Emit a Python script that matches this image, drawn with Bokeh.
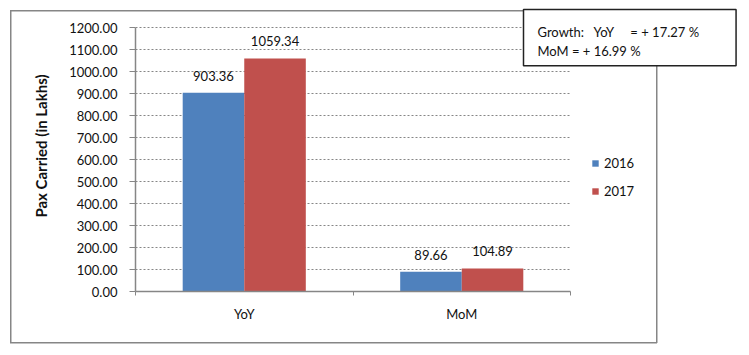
from bokeh.plotting import figure
from bokeh.models import (ColumnDataSource, FixedTicker, NumeralTickFormatter,
                          Legend, LegendItem, Label, LabelSet)
from bokeh.core.properties import value
from bokeh.transform import dodge
from bokeh.embed import file_html
from bokeh.resources import INLINE

categories = ["YoY", "MoM"]
series_names = ["2016", "2017"]
values_2016 = [903.36, 89.66]
values_2017 = [1059.34, 104.89]
y_ticks = [0, 100, 200, 300, 400, 500, 600, 700, 800, 900, 1000, 1100, 1200]
NB = "\u00a0"
growth_text = ("Growth:" + NB * 3 + "YoY" + NB * 5 + "= + 17.27 %\n"
               "MoM = + 16.99 %")

FONT = "Lato"
BLUE = "#4F81BD"
RED = "#C0504D"
GRAY = "#868686"
W, H = 749, 355

# layout geometry (pixels)
LEFT, BOTTOM = 135, 64
PLOT_RIGHT, PLOT_TOP = 570, 27
frame_w = W - LEFT
frame_h = H - BOTTOM
ncat = len(categories)
ymax = y_ticks[-1]
x_end = ncat * frame_w / (PLOT_RIGHT - LEFT)
y_end = ymax * frame_h / (frame_h - PLOT_TOP)

xc = [i + 0.5 for i in range(ncat)]
src = ColumnDataSource(dict(
    xc=xc,
    v16=values_2016,
    v17=values_2017,
    l16=["%.2f" % v for v in values_2016],
    l17=["%.2f" % v for v in values_2017],
))

# outer chart border painted as the host background (behind the transparent canvas)
g = "linear-gradient(%s,%s)" % (GRAY, GRAY)
bg = ", ".join([
    g + " 10px 10px / 647px 1.5px no-repeat",
    g + " 10px 342px / 647px 1.5px no-repeat",
    g + " 10px 10px / 1.5px 333px no-repeat",
    g + " 656px 10px / 1.5px 333px no-repeat",
    "white",
])

p = figure(width=W, height=H, x_range=(0, x_end), y_range=(0, y_end),
           output_backend="svg", toolbar_location=None,
           min_border_left=LEFT, min_border_right=0, min_border_top=0, min_border_bottom=BOTTOM,
           styles={"background": bg})
p.outline_line_color = None
p.background_fill_alpha = 0
p.border_fill_alpha = 0

# grid lines (only across the plot area)
p.segment(x0=0, x1=ncat, y0=y_ticks[1:], y1=y_ticks[1:], line_color=GRAY,
          line_dash="2 2", line_width=1)

w = 0.283
r16 = p.vbar(x=dodge("xc", -w / 2), top="v16", width=w, source=src,
             fill_color=BLUE, line_color=None)
r17 = p.vbar(x=dodge("xc", w / 2), top="v17", width=w, source=src,
             fill_color=RED, line_color=None)

for col, lab, off in (("v16", "l16", -w / 2), ("v17", "l17", w / 2)):
    ls = LabelSet(x=dodge("xc", off), y=col, text=lab, source=src,
                  text_align="center", text_baseline="bottom", y_offset=12,
                  text_font=value(FONT), text_font_size=value("13px"), text_color="#111111")
    p.add_layout(ls)

# y axis
p.yaxis.ticker = FixedTicker(ticks=y_ticks)
p.yaxis.bounds = (0, ymax)
p.yaxis.formatter = NumeralTickFormatter(format="0.00")
p.yaxis.major_label_text_font = FONT
p.yaxis.major_label_text_font_size = "13px"
p.yaxis.major_label_text_color = "#111111"
p.yaxis.major_label_standoff = 12
p.yaxis.major_tick_out = 6
p.yaxis.major_tick_in = 0
p.yaxis.minor_tick_line_color = None
p.yaxis.major_tick_line_color = GRAY
p.yaxis.axis_line_color = GRAY
p.yaxis.axis_line_width = 1.5
p.yaxis.axis_label = "Pax Carried (in Lakhs)"
p.yaxis.axis_label_text_font = FONT
p.yaxis.axis_label_text_font_size = "15px"
p.yaxis.axis_label_text_font_style = "bold"
p.yaxis.axis_label_text_color = "#111111"
p.yaxis.axis_label_standoff = 16

# x axis (categories at half-integer positions)
p.xaxis.ticker = FixedTicker(ticks=xc, minor_ticks=list(range(ncat + 1)))
p.xaxis.major_label_overrides = {x: c for x, c in zip(xc, categories)}
p.xaxis.bounds = (0, ncat)
p.xaxis.major_label_text_font = FONT
p.xaxis.major_label_text_font_size = "13px"
p.xaxis.major_label_text_color = "#111111"
p.xaxis.major_label_standoff = 8
p.xaxis.major_tick_line_color = None
p.xaxis.minor_tick_line_color = GRAY
p.xaxis.minor_tick_out = 4
p.xaxis.minor_tick_in = 0
p.xaxis.axis_line_color = GRAY
p.xaxis.axis_line_width = 1.5

p.xgrid.grid_line_color = None
p.ygrid.grid_line_color = None

# legend (inside the extended frame, right of the plot area)
legend = Legend(items=[LegendItem(label=series_names[0], renderers=[r16]),
                       LegendItem(label=series_names[1], renderers=[r17])],
                location=(456, 92), orientation="vertical", margin=0, padding=4,
                label_text_font=FONT, label_text_font_size="13px", label_text_color="#111111",
                glyph_width=8, glyph_height=8, spacing=12, label_standoff=5,
                label_height=14, background_fill_alpha=0, border_line_color=None)
p.add_layout(legend, "center")

# growth box (padding: left, right, top, bottom)
p.add_layout(Label(x=523 - LEFT, y=frame_h - 9, x_units="screen", y_units="screen",
                   text=growth_text, anchor="top_left", text_align="left",
                   text_font=FONT, text_font_size="13px", text_color="#111111",
                   background_fill_color="white", border_line_color="#222222",
                   border_line_width=1.5, padding=(14, 37, 14, 7)))

open("out.html", "w").write(file_html(p, INLINE))
